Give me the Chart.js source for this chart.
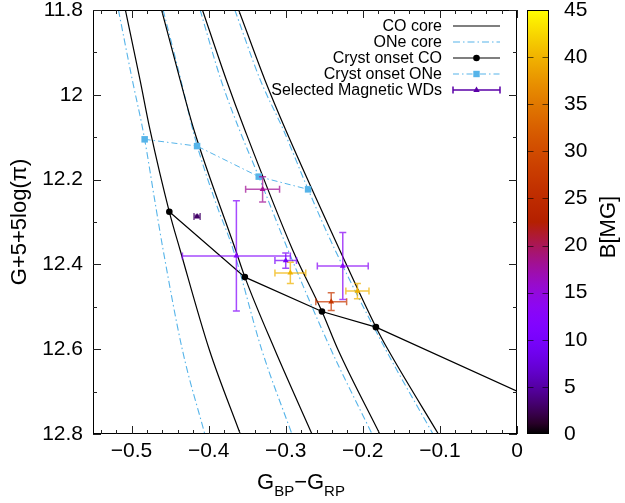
<!DOCTYPE html>
<html>
<head>
<meta charset="utf-8">
<script src="https://cdn.jsdelivr.net/npm/chart.js@4.4.1/dist/chart.umd.min.js"></script>
<style>
  html, body { margin: 0; padding: 0; background: #fff; }
</style>
</head>
<body>
<canvas id="c" width="625" height="503"></canvas>
<script>
// ===============================
// DATA
// ===============================
const xTicks = [-0.5, -0.4, -0.3, -0.2, -0.1, 0];
const yTicks = [11.8, 12, 12.2, 12.4, 12.6, 12.8];
const cbTicks = [0, 5, 10, 15, 20, 25, 30, 35, 40, 45];

// CO core cooling tracks
const coX = [
  [-0.508, -0.489, -0.476, -0.451, -0.437, -0.399, -0.359],
  [-0.461, -0.437, -0.419, -0.365, -0.353, -0.314, -0.266],
  [-0.408, -0.377, -0.353, -0.291, -0.253, -0.232, -0.178],
  [-0.361, -0.327, -0.300, -0.230, -0.183, -0.167, -0.102]
];
const coY = [
  [11.8, 11.965, 12.083, 12.276, 12.366, 12.602, 12.8],
  [11.8, 11.965, 12.083, 12.366, 12.430, 12.602, 12.8],
  [11.8, 11.965, 12.083, 12.366, 12.511, 12.602, 12.8],
  [11.8, 11.965, 12.083, 12.366, 12.548, 12.602, 12.8]
];

// ONe core cooling tracks
const oneX = [
  [-0.517, -0.499, -0.484, -0.470, -0.459, -0.434, -0.405],
  [-0.459, -0.436, -0.418, -0.392, -0.368, -0.331, -0.292],
  [-0.411, -0.384, -0.360, -0.335, -0.297, -0.241, -0.188],
  [-0.366, -0.333, -0.303, -0.271, -0.236, -0.170, -0.109]
];
const oneY = [
  [11.8, 11.965, 12.095, 12.248, 12.366, 12.602, 12.8],
  [11.8, 11.965, 12.100, 12.248, 12.366, 12.602, 12.8],
  [11.8, 11.965, 12.083, 12.193, 12.366, 12.602, 12.8],
  [11.8, 11.965, 12.083, 12.223, 12.366, 12.602, 12.8]
];

// crystallization onset
const crystCOX = [-0.451, -0.353, -0.253, -0.183, 0];
const crystCOY = [12.276, 12.430, 12.511, 12.548, 12.699];
const crystONeX = [-0.483, -0.415, -0.335, -0.271];
const crystONeY = [12.105, 12.121, 12.193, 12.223];

// magnetic white dwarfs
const wdX    = [-0.415, -0.364, -0.300, -0.294, -0.226, -0.207, -0.241, -0.330];
const wdY    = [12.287, 12.380, 12.391, 12.420, 12.404, 12.463, 12.488, 12.223];
const wdXErr = [0.004, 0.070, 0.014, 0.020, 0.033, 0.015, 0.020, 0.022];
const wdYErr = [0.003, 0.130, 0.018, 0.025, 0.079, 0.018, 0.021, 0.030];
const wdB    = [3, 12, 10, 40, 13, 40, 27, 18];

// ===============================
// HELPERS
// ===============================
const FONT = '"Liberation Sans", Arial, Helvetica, sans-serif';
const ONE_BLUE = '#56b4e9';

// gnuplot default palette (rgbformulae 7,5,15)
function pal(b, a) {
  const t = Math.min(1, Math.max(0, b / 45));
  const r = Math.round(255 * Math.sqrt(t));
  const g = Math.round(255 * t * t * t);
  const bl = Math.round(255 * Math.max(0, Math.sin(2 * Math.PI * t)));
  return `rgba(${r},${g},${bl},${a === undefined ? 1 : a})`;
}

function pts(xs, ys) {
  return xs.map((x, i) => ({ x, y: ys[i] }));
}

// chart.js adds tick padding to the top/bottom inset of vertical axes; drop it
function noPad(s) {
  s.paddingTop = 0; s.paddingBottom = 0; s.paddingLeft = 0; s.paddingRight = 0;
}

// ===============================
// DATASETS
// ===============================
const datasets = [];

datasets.push({
  label: 'Selected Magnetic WDs',
  data: pts(wdX, wdY),
  showLine: false,
  pointStyle: 'triangle',
  pointRadius: 3.4,
  pointBackgroundColor: wdB.map(b => pal(b)),
  pointBorderColor: wdB.map(b => pal(b)),
  pointBorderWidth: 0,
  order: 0
});

datasets.push({
  label: 'Cryst onset CO',
  data: pts(crystCOX, crystCOY),
  showLine: true,
  borderColor: '#000',
  borderWidth: 1.2,
  pointRadius: [3.3, 3.3, 3.3, 3.3, 0],
  pointBackgroundColor: '#000',
  pointBorderWidth: 0,
  order: 1
});

datasets.push({
  label: 'Cryst onset ONe',
  data: pts(crystONeX, crystONeY),
  showLine: true,
  borderColor: ONE_BLUE,
  borderWidth: 1,
  borderDash: [6, 3, 1.5, 3],
  pointStyle: 'rect',
  pointRadius: 4.6,
  pointBackgroundColor: ONE_BLUE,
  pointBorderWidth: 0,
  order: 1
});

coX.forEach((xs, k) => {
  datasets.push({
    label: k === 0 ? 'CO core' : '',
    data: pts(xs, coY[k]),
    showLine: true,
    borderColor: '#000',
    borderWidth: 1.2,
    pointRadius: 0,
    cubicInterpolationMode: 'monotone',
    order: 2
  });
});

oneX.forEach((xs, k) => {
  datasets.push({
    label: k === 0 ? 'ONe core' : '',
    data: pts(xs, oneY[k]),
    showLine: true,
    borderColor: ONE_BLUE,
    borderWidth: 1.1,
    borderDash: [7, 3, 1.5, 3],
    pointRadius: 0,
    cubicInterpolationMode: 'monotone',
    order: 2
  });
});

// ===============================
// PLUGINS
// ===============================
// error bars of the magnetic WDs, drawn just before their markers
const errorBars = {
  id: 'errorBars',
  beforeDatasetDraw(chart, args) {
    if (args.index !== 0) return;
    const { ctx, scales: { x, y } } = chart;
    const cap = 3.5;
    ctx.save();
    ctx.lineWidth = 1.5;
    wdX.forEach((vx, i) => {
      ctx.strokeStyle = pal(wdB[i], 0.72);
      const px = x.getPixelForValue(vx);
      const py = y.getPixelForValue(wdY[i]);
      const x1 = x.getPixelForValue(vx - wdXErr[i]);
      const x2 = x.getPixelForValue(vx + wdXErr[i]);
      const y1 = y.getPixelForValue(wdY[i] - wdYErr[i]);
      const y2 = y.getPixelForValue(wdY[i] + wdYErr[i]);
      ctx.beginPath();
      ctx.moveTo(x1, py); ctx.lineTo(x2, py);
      ctx.moveTo(x1, py - cap); ctx.lineTo(x1, py + cap);
      ctx.moveTo(x2, py - cap); ctx.lineTo(x2, py + cap);
      ctx.moveTo(px, y1); ctx.lineTo(px, y2);
      ctx.moveTo(px - cap, y1); ctx.lineTo(px + cap, y1);
      ctx.moveTo(px - cap, y2); ctx.lineTo(px + cap, y2);
      ctx.stroke();
    });
    ctx.restore();
  }
};

// frame, inward ticks, key, colour box and axis titles (gnuplot look)
const decorations = {
  id: 'decorations',
  afterDraw(chart) {
    const { ctx, chartArea: a, scales: { x, y, cb } } = chart;
    ctx.save();

    // frame
    ctx.strokeStyle = '#000';
    ctx.lineWidth = 1;
    ctx.strokeRect(a.left + 0.5, a.top + 0.5, a.right - a.left - 1, a.bottom - a.top - 1);

    // ticks
    ctx.strokeStyle = '#222';
    ctx.beginPath();
    const xTick = (v, len) => {
      const px = Math.round(x.getPixelForValue(v)) + 0.5;
      ctx.moveTo(px, a.bottom); ctx.lineTo(px, a.bottom - len);
      ctx.moveTo(px, a.top); ctx.lineTo(px, a.top + len);
    };
    const yTick = (v, len) => {
      const py = Math.round(y.getPixelForValue(v)) + 0.5;
      ctx.moveTo(a.left, py); ctx.lineTo(a.left + len, py);
      ctx.moveTo(a.right, py); ctx.lineTo(a.right - len, py);
    };
    xTicks.forEach(v => xTick(v, 8));
    for (let i = 1; i < 28; i++) {
      const v = -0.56 + i * 0.02;
      if (Math.abs(Math.round(v * 10) - v * 10) > 1e-6) xTick(v, 4);
    }
    yTicks.forEach(v => yTick(v, 8));
    for (let i = 0; i < 5; i++) yTick(11.9 + i * 0.2, 4);
    ctx.stroke();

    // colour box
    const bx = a.right + 10.5;
    const bw = 21;
    const top = cb.getPixelForValue(45);
    const bot = cb.getPixelForValue(0);
    const grad = ctx.createLinearGradient(0, bot, 0, top);
    for (let i = 0; i <= 40; i++) grad.addColorStop(i / 40, pal(45 * i / 40));
    ctx.fillStyle = grad;
    ctx.fillRect(bx, top, bw, bot - top);
    ctx.strokeStyle = '#000';
    ctx.strokeRect(bx, top + 0.5, bw, bot - top - 1);
    ctx.strokeStyle = 'rgba(0,0,0,0.6)';
    ctx.beginPath();
    cbTicks.forEach(v => {
      if (v === 0 || v === 45) return;
      const py = Math.round(cb.getPixelForValue(v)) + 0.5;
      ctx.moveTo(bx, py); ctx.lineTo(bx + 6, py);
      ctx.moveTo(bx + bw, py); ctx.lineTo(bx + bw - 6, py);
    });
    ctx.stroke();

    // key
    const tx = a.right - 75, l1 = a.right - 64, l2 = a.right - 17, lm = (l1 + l2) / 2;
    const rowY = i => a.top + 16 + i * 16;
    ctx.font = '16px ' + FONT;
    ctx.fillStyle = '#000';
    ctx.textAlign = 'right';
    ctx.textBaseline = 'middle';
    const keys = ['CO core', 'ONe core', 'Cryst onset CO', 'Cryst onset ONe', 'Selected Magnetic WDs'];
    keys.forEach((k, i) => ctx.fillText(k, tx, rowY(i) + 1));

    ctx.lineWidth = 1.2;
    ctx.strokeStyle = '#000';
    ctx.beginPath(); ctx.moveTo(l1, rowY(0)); ctx.lineTo(l2, rowY(0)); ctx.stroke();
    ctx.beginPath(); ctx.moveTo(l1, rowY(2)); ctx.lineTo(l2, rowY(2)); ctx.stroke();
    ctx.fillStyle = '#000';
    ctx.beginPath(); ctx.arc(lm, rowY(2), 3.3, 0, Math.PI * 2); ctx.fill();

    ctx.strokeStyle = ONE_BLUE;
    ctx.lineWidth = 1.1;
    ctx.setLineDash([7, 3, 1.5, 3]);
    ctx.beginPath(); ctx.moveTo(l1, rowY(1)); ctx.lineTo(l2, rowY(1)); ctx.stroke();
    ctx.setLineDash([6, 3, 1.5, 3]);
    ctx.beginPath(); ctx.moveTo(l1, rowY(3)); ctx.lineTo(l2, rowY(3)); ctx.stroke();
    ctx.setLineDash([]);
    ctx.fillStyle = ONE_BLUE;
    ctx.fillRect(lm - 3.2, rowY(3) - 3.2, 6.4, 6.4);

    const wy = rowY(4);
    ctx.strokeStyle = '#5b00a8';
    ctx.lineWidth = 1.5;
    ctx.beginPath();
    ctx.moveTo(l1, wy); ctx.lineTo(l2, wy);
    ctx.moveTo(l1, wy - 3.5); ctx.lineTo(l1, wy + 3.5);
    ctx.moveTo(l2, wy - 3.5); ctx.lineTo(l2, wy + 3.5);
    ctx.stroke();
    ctx.fillStyle = '#5b00a8';
    ctx.beginPath();
    ctx.moveTo(lm, wy - 3.5); ctx.lineTo(lm + 3.2, wy + 2); ctx.lineTo(lm - 3.2, wy + 2);
    ctx.closePath(); ctx.fill();

    // axis titles
    ctx.fillStyle = '#000';
    ctx.textBaseline = 'alphabetic';
    ctx.textAlign = 'center';
    ctx.font = '22px ' + FONT;

    ctx.save();
    ctx.translate(26, (a.top + a.bottom) / 2);
    ctx.rotate(-Math.PI / 2);
    ctx.fillText('G+5+5log(\u03c0)', 0, 0);
    ctx.restore();

    ctx.save();
    ctx.translate(a.right + 98, 227);
    ctx.rotate(-Math.PI / 2);
    ctx.fillText('B[MG]', 0, 0);
    ctx.restore();

    // x title with subscripts
    const big = '22px ' + FONT, small = '15px ' + FONT;
    const parts = [['G', big, 0], ['BP', small, 7], ['\u2212G', big, 0], ['RP', small, 7]];
    let total = 0;
    parts.forEach(p => { ctx.font = p[1]; total += ctx.measureText(p[0]).width; });
    let cx = 301 - total / 2;
    ctx.textAlign = 'left';
    parts.forEach(p => {
      ctx.font = p[1];
      ctx.fillText(p[0], cx, 489 + p[2]);
      cx += ctx.measureText(p[0]).width;
    });

    ctx.restore();
  }
};

// ===============================
// CHART
// ===============================
const tickFont = { family: FONT, size: 21 };
const noGrid = { display: false, drawTicks: false };

new Chart(document.getElementById('c'), {
  type: 'scatter',
  data: { datasets },
  options: {
    responsive: false,
    animation: false,
    devicePixelRatio: 1,
    layout: { padding: { top: 10, left: 0, right: 0, bottom: 0 } },
    plugins: { legend: { display: false }, tooltip: { enabled: false } },
    scales: {
      x: {
        type: 'linear', min: -0.55, max: 0,
        afterBuildTicks: s => { s.ticks = xTicks.map(v => ({ value: v })); },
        afterFit: s => { s.height = 69; noPad(s); },
        grid: noGrid, border: { display: false },
        ticks: {
          font: tickFont, color: '#000', padding: 5, maxRotation: 0, autoSkip: false,
          callback: v => (Math.abs(v) < 1e-9 ? '0' : '\u2212' + Math.abs(v).toFixed(1))
        }
      },
      y: {
        type: 'linear', reverse: true, min: 11.8, max: 12.8,
        afterBuildTicks: s => { s.ticks = yTicks.map(v => ({ value: v })); },
        afterFit: s => { s.width = 93; noPad(s); },
        grid: noGrid, border: { display: false },
        ticks: {
          font: tickFont, color: '#000', padding: 10, autoSkip: false,
          callback: v => (Math.abs(v - 12) < 1e-9 ? '12' : v.toFixed(1))
        }
      },
      cb: {
        type: 'linear', position: 'right', min: 0, max: 45,
        afterBuildTicks: s => { s.ticks = cbTicks.map(v => ({ value: v })); },
        afterFit: s => { s.width = 108; noPad(s); },
        grid: noGrid, border: { display: false },
        ticks: { font: tickFont, color: '#000', padding: 47, autoSkip: false }
      }
    }
  },
  plugins: [errorBars, decorations]
});
</script>
</body>
</html>
